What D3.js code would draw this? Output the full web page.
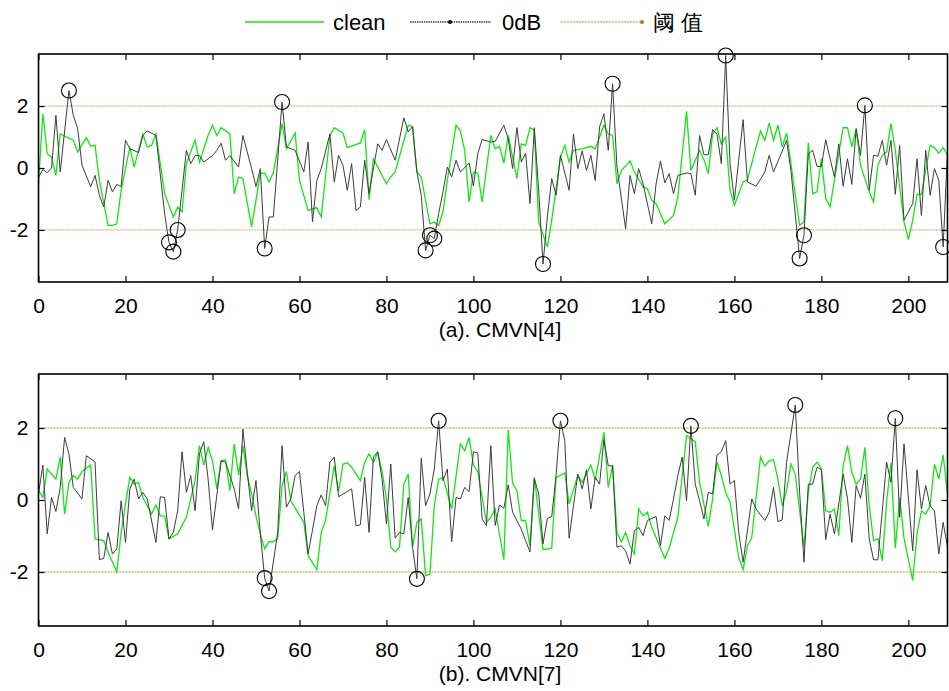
<!DOCTYPE html>
<html>
<head>
<meta charset="utf-8">
<script src="https://cdn.jsdelivr.net/npm/d3@7"></script>
<style>
  body { margin: 0; background: #fff; }
  text { font-family: 'Liberation Sans', Arial, sans-serif; }
</style>
</head>
<body>
<div id="chart"></div>
<script>
// tick values
const xTicks = [0, 20, 40, 60, 80, 100, 120, 140, 160, 180, 200]
const yTicks = [-2, 0, 2]
const thresholds = [2, -2]

// legend labels
const seriesNames = ['clean', '0dB', '阈 值']

// (a) CMVN[4]  -- [frame, value]
const aClean = [[0,-0.5],[1,1.75],[2,0.46],[3,0.35],[4,-0.24],[5,1.1],[8,0.9],[9,0.52],[11,0.98],[12,0.7],[13,0.73],[14,-0.4],[16,-1.85],[17,-1.85],[18,-1.8],[19,-0.72],[21,0.68],[22,0.03],[24,1.1],[25,0.68],[26,0.73],[27,1.1],[29,-0.83],[31,-1.58],[32,-1.26],[33,-1.42],[34,0.14],[36,0.9],[37,0.19],[39,1.05],[40,1.38],[41,1.05],[42,1.3],[44,1.1],[45,-0.83],[46,-0.29],[47,-0.34],[49,-1.9],[51,-0.18],[52,-0.16],[53,-0.45],[54,-0.15],[56,1.43],[57,0.62],[59,1.13],[60,-0.4],[62,-1.37],[64,-1.28],[65,-1.58],[67,1.05],[68,1.3],[70,1.13],[71,0.66],[74,0.81],[75,1.24],[76,-1.02],[77,0.3],[80,-0.51],[81,-0.29],[82,-0.13],[85,1.38],[86,1.34],[87,-0.13],[88,-0.29],[90,-1.8],[91,-1.74],[92,-1.85],[93,-1.42],[94,-0.4],[96,1.38],[97,1.19],[98,0.57],[99,-1.1],[100,-0.13],[101,-0.16],[102,-1.1],[104,1.05],[105,0.62],[106,0.7],[107,0.16],[108,1.05],[110,-0.34],[111,0.78],[112,0.73],[113,1.3],[114,1.22],[115,-1.74],[117,-2.55],[118,-1.69],[120,0.35],[121,0.73],[122,0.19],[123,0.57],[125,0.62],[127,0.7],[128,0.62],[130,1.38],[131,1.1],[132,1.05],[133,-0.51],[134,-0.08],[136,0.23],[137,-0.13],[139,-0.61],[140,-0.67],[141,-1.04],[142,-1.15],[144,-1.8],[146,-1.53],[147,-0.94],[149,1.83],[150,-0.08],[152,0.57],[153,0.27],[154,-0.18],[155,1.1],[156,1.3],[157,0.78],[158,1.0],[159,-0.7],[160,-1.2],[162,-0.45],[163,-0.38],[165,0.68],[166,1.19],[167,0.89],[168,1.45],[169,0.89],[170,1.38],[171,0.68],[172,1.13],[175,-1.85],[176,-1.74],[177,0.81],[178,-0.83],[179,-0.77],[180,0.3],[181,-0.99],[182,-1.26],[184,0.46],[185,1.3],[186,1.3],[187,0.68],[188,1.27],[189,0.09],[191,-0.77],[192,-1.1],[193,0.09],[194,0.41],[195,0.52],[196,1.43],[197,0.57],[199,-1.74],[200,-2.31],[201,-1.69],[202,-0.85],[203,-0.85],[205,0.73],[206,0.66],[207,0.48],[208,0.66],[209,0.41]]

const aNoisy = [[0,-0.3],[1,-0.05],[2,-0.15],[3,0.0],[4,1.7],[5,-0.13],[7,2.5],[8,1.7],[9,1.27],[10,0.09],[12,-0.6],[13,-0.24],[14,-0.88],[15,-1.26],[16,-0.4],[17,-0.77],[18,-0.53],[19,-0.6],[20,0.9],[21,0.62],[23,0.5],[24,1.05],[25,1.2],[27,1.05],[29,-1.47],[30,-2.4],[31,-2.7],[32,-2.0],[34,0.57],[35,0.14],[36,0.4],[37,0.4],[38,0.19],[40,0.4],[41,0.57],[42,0.8],[43,0.25],[44,0.4],[46,0.03],[47,1.05],[49,-0.02],[50,-0.6],[51,-0.02],[52,-2.6],[53,-1.58],[54,-1.58],[56,2.13],[57,0.68],[59,0.57],[61,-0.13],[62,0.84],[63,-1.74],[64,-0.4],[65,-0.02],[67,1.1],[68,-0.45],[69,0.41],[70,0.09],[71,-0.72],[72,0.14],[73,-1.37],[74,-1.26],[75,0.25],[76,-0.83],[78,0.78],[79,0.57],[80,0.92],[82,0.25],[84,1.62],[85,1.16],[86,1.34],[87,-0.13],[88,-0.88],[89,-2.66],[90,-2.17],[91,-2.28],[92,-1.47],[93,-0.77],[94,0.03],[95,-0.29],[96,0.25],[97,-0.13],[99,0.16],[100,-0.58],[101,0.46],[102,0.92],[104,0.84],[105,0.86],[107,1.38],[108,0.95],[109,-0.02],[110,1.3],[111,0.19],[112,0.48],[113,-1.15],[114,1.3],[115,-0.72],[116,-3.1],[117,-1.58],[118,-0.34],[119,-0.88],[120,0.41],[122,-0.72],[123,1.1],[124,-0.02],[125,0.55],[126,-0.08],[127,0.41],[128,-0.4],[129,1.32],[130,1.75],[131,0.57],[132,2.72],[133,0.03],[135,-1.97],[136,-0.24],[137,-0.83],[138,-0.02],[139,-0.51],[141,-1.8],[142,-0.51],[143,0.23],[144,-0.48],[145,-0.18],[146,-0.83],[147,-0.24],[149,-0.16],[150,-0.18],[151,-0.88],[152,1.05],[153,0.43],[154,0.43],[155,1.24],[156,1.09],[157,0.14],[158,3.63],[159,0.14],[160,-1.04],[162,1.56],[163,-0.45],[165,-0.59],[167,-0.13],[168,0.41],[169,-0.13],[172,0.89],[173,-0.08],[175,-2.92],[176,-2.17],[177,0.46],[178,0.57],[179,0.05],[180,0.05],[181,0.91],[183,-0.29],[184,0.78],[185,-0.59],[186,0.3],[187,-0.53],[188,1.27],[189,0.41],[190,2.02],[191,-0.72],[192,0.41],[193,0.38],[194,0.89],[195,0.09],[196,0.89],[197,-0.85],[198,0.73],[199,-1.69],[201,-1.15],[202,0.3],[203,-1.53],[204,0.57],[205,-0.88],[206,-0.02],[207,-0.4],[208,-2.55],[209,0.57]]

// frames circled as outliers
const aOutliers = [7, 30, 31, 32, 52, 56, 89, 90, 91, 116, 132, 158, 175, 176, 190, 208]

// (b) CMVN[7]
const bClean = [[0,0.26],[1,0.07],[2,0.86],[4,0.58],[5,1.19],[6,-0.39],[7,0.49],[8,0.69],[9,0.58],[10,0.79],[12,0.97],[13,-1.08],[15,-1.13],[16,-1.45],[18,-2.0],[19,-0.9],[20,-0.11],[21,0.63],[22,0.44],[23,0.49],[24,0.07],[26,-0.39],[27,-0.14],[28,-0.44],[29,-0.45],[30,-1.08],[32,-0.94],[34,-0.48],[36,0.54],[37,1.51],[38,0.97],[39,1.46],[40,1.09],[41,0.31],[42,1.09],[43,1.11],[44,0.26],[45,1.56],[46,0.69],[47,1.51],[48,0.68],[49,0.17],[50,-0.44],[51,-0.94],[52,-1.36],[53,-1.16],[54,-1.16],[55,-1.08],[56,0.4],[57,0.79],[58,-0.02],[61,-0.62],[62,-1.55],[64,-1.94],[65,-0.9],[66,-0.57],[68,0.95],[69,0.23],[70,1.0],[71,1.03],[72,0.91],[74,0.54],[75,1.05],[76,1.28],[77,1.05],[78,1.31],[79,0.79],[80,0.03],[81,-1.31],[82,-1.44],[83,-1.31],[84,0.44],[85,0.72],[86,-1.31],[87,-0.62],[88,-0.53],[89,-2.1],[90,-2.06],[91,-0.16],[92,0.58],[93,0.63],[95,-0.25],[97,1.56],[98,1.37],[99,1.74],[100,0.97],[101,0.79],[103,-0.62],[104,-0.48],[105,-0.25],[107,-1.66],[108,1.95],[109,0.47],[110,0.26],[111,-0.57],[112,-0.57],[113,-1.27],[114,0.63],[116,-1.38],[118,-1.34],[119,0.63],[121,0.75],[122,-0.11],[124,0.68],[125,0.49],[127,0.97],[128,0.56],[130,1.88],[131,0.35],[132,0.97],[133,-0.9],[134,-1.16],[135,-0.9],[136,-1.27],[137,-1.5],[138,-0.25],[139,-0.44],[140,-0.34],[141,-0.76],[144,-1.62],[145,-1.34],[147,-0.48],[149,1.79],[151,1.62],[152,0.49],[154,-0.73],[155,0.03],[156,1.06],[157,0.68],[158,0.21],[159,-0.06],[161,-1.59],[162,-1.94],[163,-1.27],[164,-1.04],[166,1.19],[167,0.94],[168,1.09],[169,1.12],[170,0.58],[171,-0.16],[172,0.26],[173,1.0],[174,0.72],[176,-1.31],[177,0.21],[178,0.91],[179,1.05],[180,0.86],[181,-0.3],[182,-0.34],[183,-0.25],[184,-0.99],[185,0.95],[186,1.51],[187,0.77],[188,0.44],[189,0.58],[190,1.46],[191,-0.16],[192,-1.13],[193,-1.08],[194,-1.69],[195,-0.06],[196,1.03],[197,-1.34],[198,0.07],[199,-1.06],[201,-2.24],[202,-0.94],[203,-0.3],[204,-0.39],[205,-0.16],[206,1.0],[207,0.58],[208,1.25],[209,0.17]]

const bNoisy = [[0,0.17],[1,0.97],[2,-0.94],[3,0.07],[4,-0.32],[5,0.35],[6,1.74],[7,1.28],[8,0.35],[10,0.03],[11,1.23],[13,1.06],[14,-1.66],[15,-1.62],[16,-0.9],[17,-1.5],[18,-1.36],[19,-0.02],[20,-1.18],[21,0.31],[22,0.58],[23,0.03],[24,0.21],[25,0.03],[27,-1.18],[28,0.09],[29,0.07],[30,-1.08],[31,-0.9],[32,-0.3],[33,1.34],[34,0.21],[35,0.68],[36,-0.3],[37,1.28],[38,1.62],[39,0.58],[40,-0.83],[42,1.09],[43,1.05],[45,0.31],[46,-0.25],[47,1.97],[48,0.77],[49,-0.3],[50,0.54],[51,-0.92],[52,-2.17],[53,-2.53],[55,-0.9],[56,1.51],[57,-0.2],[58,0.03],[59,0.68],[60,0.79],[61,-0.34],[62,-1.5],[64,-0.16],[65,0.14],[66,-0.16],[67,1.05],[68,1.19],[69,0.09],[72,0.31],[73,-0.71],[74,-0.69],[75,0.63],[76,-0.9],[77,1.19],[78,1.34],[79,0.58],[80,-0.67],[81,1.0],[82,-1.06],[83,-0.9],[84,-0.94],[85,0.07],[86,-1.31],[87,-2.19],[88,1.16],[89,-0.16],[90,0.17],[91,0.86],[92,2.2],[93,0.54],[94,0.86],[95,-1.16],[96,0.07],[97,0.03],[98,0.35],[99,0.23],[100,1.34],[101,1.31],[102,-0.53],[103,-0.71],[104,1.51],[105,-0.71],[106,-0.14],[107,-0.23],[108,0.42],[109,-0.34],[111,-0.81],[112,-1.13],[113,-1.44],[114,0.6],[115,0.17],[116,-1.22],[117,-0.51],[118,-0.46],[119,0.68],[120,2.2],[121,1.65],[122,-1.06],[123,-0.16],[124,0.72],[125,0.31],[126,0.84],[127,-0.25],[128,0.63],[129,0.44],[130,1.68],[131,0.95],[132,0.95],[133,-1.31],[134,-1.27],[135,-1.41],[136,-1.78],[137,-0.85],[138,-0.76],[139,-0.99],[140,-0.57],[142,-0.46],[143,-1.27],[144,-0.44],[145,-0.57],[146,0.03],[147,0.68],[148,1.19],[149,-0.02],[150,2.06],[151,0.44],[152,-0.02],[153,-0.53],[154,0.21],[155,0.17],[156,1.25],[157,1.34],[158,1.65],[159,0.44],[160,0.54],[161,-0.9],[162,-1.73],[164,0.03],[165,-0.25],[167,-0.57],[168,-0.34],[169,0.35],[170,-0.6],[171,-0.55],[172,1.05],[174,2.64],[175,0.21],[176,-1.73],[177,0.44],[178,0.44],[179,0.91],[180,0.84],[181,-1.1],[182,-0.39],[183,-0.94],[185,0.72],[186,0.05],[187,-1.18],[188,0.4],[189,0.05],[190,0.72],[191,-1.08],[192,-1.66],[193,-1.66],[195,1.05],[196,0.49],[197,2.27],[198,-0.48],[199,1.56],[201,-1.41],[202,0.84],[203,-0.25],[204,0.4],[205,-0.16],[206,-0.3],[207,-1.5],[208,-0.62],[209,-1.31]]

const bOutliers = [52, 53, 87, 92, 120, 150, 174, 197]

const width = 949
const height = 691
const green = '#14e614'
const dark = '#3c3c3c'
const tan = '#d8b47e'
const fontSize = 21

let svg = d3
  .select('#chart')
  .append('svg')
  .attr('width', width)
  .attr('height', height)

let x = d3.scaleLinear().domain([0, 209]).range([38.5, 947.5])

let panels = [
  { top: 54, bottom: 282, lim: 3.68, clean: aClean, noisy: aNoisy, out: aOutliers, title: '(a). CMVN[4]' },
  { top: 374, bottom: 626, lim: 3.5, clean: bClean, noisy: bNoisy, out: bOutliers, title: '(b). CMVN[7]' }
]

panels.forEach((p) => {
  let y = d3.scaleLinear().domain([-p.lim, p.lim]).range([p.bottom, p.top])
  let g = svg.append('g')

  // threshold lines
  g.selectAll('.thr')
    .data(thresholds)
    .enter()
    .append('line')
    .attr('x1', x(0))
    .attr('x2', x(209))
    .attr('y1', (d) => y(d))
    .attr('y2', (d) => y(d))
    .attr('stroke', tan)
    .attr('stroke-width', 1.3)
    .attr('stroke-dasharray', '2,1')

  let line = d3.line().x((d) => x(d[0])).y((d) => y(d[1]))

  g.append('path')
    .datum(p.clean)
    .attr('d', line)
    .attr('fill', 'none')
    .attr('stroke', green)
    .attr('stroke-width', 1.3)

  g.append('path')
    .datum(p.noisy)
    .attr('d', line)
    .attr('fill', 'none')
    .attr('stroke', dark)
    .attr('stroke-width', 1)

  // circle the outlier frames of the noisy series
  let lookup = new Map(p.noisy)
  g.selectAll('.outlier')
    .data(p.out)
    .enter()
    .append('circle')
    .attr('cx', (d) => x(d))
    .attr('cy', (d) => y(lookup.get(d)))
    .attr('r', 7.5)
    .attr('fill', 'none')
    .attr('stroke', '#000')
    .attr('stroke-width', 1.1)

  // axes, ticks pointing inward
  let bottomAxis = d3.axisBottom(x).tickValues(xTicks).tickSizeInner(-6).tickSizeOuter(0).tickPadding(16)
  let topAxis = d3.axisTop(x).tickValues(xTicks).tickSizeInner(-6).tickSizeOuter(0).tickFormat('')
  let leftAxis = d3.axisLeft(y).tickValues(yTicks).tickSizeInner(-6).tickSizeOuter(0).tickPadding(10).tickFormat((d) => String(d))
  let rightAxis = d3.axisRight(y).tickValues(yTicks).tickSizeInner(-6).tickSizeOuter(0).tickFormat('')

  let axes = [
    g.append('g').attr('transform', 'translate(0,' + p.bottom + ')').call(bottomAxis),
    g.append('g').attr('transform', 'translate(0,' + p.top + ')').call(topAxis),
    g.append('g').attr('transform', 'translate(' + x(0) + ',0)').call(leftAxis),
    g.append('g').attr('transform', 'translate(' + x(209) + ',0)').call(rightAxis)
  ]
  axes.forEach((a) => {
    a.select('.domain').remove()
    a.selectAll('line').attr('stroke', '#000').attr('stroke-width', 1.2)
    a.selectAll('text').attr('font-size', fontSize).attr('font-family', "'Liberation Sans', Arial, sans-serif").attr('fill', '#000')
  })

  g.append('rect')
    .attr('x', x(0))
    .attr('y', p.top)
    .attr('width', x(209) - x(0))
    .attr('height', p.bottom - p.top)
    .attr('fill', 'none')
    .attr('stroke', '#000')
    .attr('stroke-width', 1.6)

  g.append('text')
    .text(p.title)
    .attr('x', 500)
    .attr('y', p.bottom + 55)
    .attr('text-anchor', 'middle')
    .attr('font-size', fontSize)
})

// legend
let legend = svg.append('g').attr('transform', 'translate(0,22)')
let legendItems = [
  { x1: 245, x2: 324, color: green, dash: null, dot: null, tx: 333 },
  { x1: 410, x2: 491, color: dark, dash: '1.5,0.8', dot: 450, tx: 502 },
  { x1: 561, x2: 642, color: tan, dash: '2,1', dot: 642, tx: 653 }
]
legendItems.forEach((d, i) => {
  legend.append('line')
    .attr('x1', d.x1)
    .attr('x2', d.x2)
    .attr('stroke', d.color)
    .attr('stroke-width', 1.3)
    .attr('stroke-dasharray', d.dash)
  if (d.dot) {
    legend.append('circle')
      .attr('cx', d.dot)
      .attr('r', 2)
      .attr('fill', i === 2 ? '#b57a1e' : '#000')
  }
  legend.append('text')
    .text(seriesNames[i])
    .attr('x', d.tx)
    .attr('y', 8)
    .attr('font-size', 22)
    .attr('font-family', i === 2 ? "'Noto Sans CJK SC', sans-serif" : null)
})
</script>
</body>
</html>
